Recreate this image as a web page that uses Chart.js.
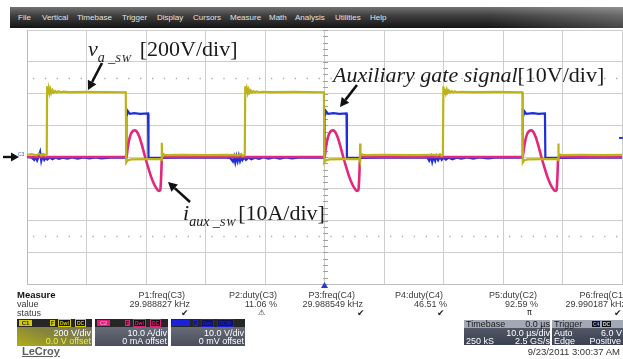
<!DOCTYPE html>
<html>
<head>
<meta charset="utf-8">
<script src="https://cdn.jsdelivr.net/npm/chart.js@4.4.1/dist/chart.umd.min.js"></script>
<style>
html,body{margin:0;padding:0;background:#fff}
body{position:relative;width:623px;height:359px;overflow:hidden;font-family:"Liberation Sans",Arial,sans-serif}
#scope{position:absolute;left:0;top:0}
#menubar{position:absolute;left:10px;top:7px;width:613px;height:21px;background:linear-gradient(to right,rgba(255,255,255,0) 78%,rgba(255,255,255,.22) 100%),linear-gradient(to bottom,#727272 0%,#404040 40%,#141414 100%)}
#menubar span{position:absolute;top:6px;font-size:8px;line-height:9px;color:#e4e4e4}
.ann{position:absolute;font-family:"Liberation Serif","Times New Roman",serif;font-size:22px;line-height:22px;white-space:nowrap;color:#1a1a1a}
.ann i{font-style:italic}
.sub{display:inline-block;position:relative;top:6px;font-size:14px;line-height:14px;font-style:italic}
.sc{font-size:11px;letter-spacing:1px}
.t9{position:absolute;font-size:9px;line-height:10px;white-space:nowrap;color:#3a3a3a}
.b{font-weight:bold;color:#111;font-size:9.5px}
.st{position:absolute;top:308px;font-size:9px;line-height:10px;color:#222;font-family:"DejaVu Sans",sans-serif}
.ch{position:absolute;top:319px;width:75px;height:27px;overflow:hidden}
.chh{position:absolute;left:0;top:0;right:0;height:8px;background:#262626}
.lab{position:absolute;top:1px;height:6px;width:13px;font-size:6px;line-height:6px;font-weight:bold;text-align:center}
.tag{position:absolute;top:1px;height:6px;font-size:5px;line-height:6px;padding:0 1px;font-weight:bold}
.v1{position:absolute;right:1px;top:9px;font-size:9px;line-height:10px;color:#fff;white-space:nowrap}
.v2{position:absolute;right:1px;top:18px;font-size:9px;line-height:9px;color:#fff;white-space:nowrap}
.bx{position:absolute;top:320px;height:25px;overflow:hidden;background:linear-gradient(to bottom,#5c6272,#3a4050)}
.r1{position:absolute;left:0;right:0;top:0;height:8px;background:#a2a8b4}
.bt{position:absolute;font-size:9px;line-height:9px;white-space:nowrap;color:#fff}
</style>
</head>
<body>
<canvas id="scope" width="623" height="359"></canvas>

<div id="menubar">
<span style="left:8px">File</span><span style="left:32px">Vertical</span><span style="left:67px">Timebase</span><span style="left:112px">Trigger</span><span style="left:147px">Display</span><span style="left:183px">Cursors</span><span style="left:220px">Measure</span><span style="left:259px">Math</span><span style="left:285px">Analysis</span><span style="left:325px">Utilities</span><span style="left:360px">Help</span>
</div>

<div class="t9" style="left:18px;top:151px;font-size:5px;line-height:6px;color:#3a52c8">C3</div>

<div class="ann" style="left:88px;top:38px"><i>v</i><span class="sub" style="width:42px">a _<span class="sc">SW</span></span>[200V/div]</div>
<div class="ann" style="left:333px;top:64px"><i>Auxiliary gate signal</i>[10V/div]</div>
<div class="ann" style="left:183px;top:202px"><i>i</i><span class="sub" style="width:49px">aux _<span class="sc">SW</span></span>[10A/div]</div>

<!-- measurement table -->
<div class="t9 b" style="left:17px;top:290px">Measure</div>
<div class="t9" style="left:17px;top:299px">value</div>
<div class="t9" style="left:17px;top:308px">status</div>

<div class="t9" style="right:438px;top:290px">P1:freq(C3)</div>
<div class="t9" style="right:433px;top:299px">29.988827 kHz</div>
<div class="st" style="left:181px">✔</div>

<div class="t9" style="right:346px;top:290px">P2:duty(C3)</div>
<div class="t9" style="right:346px;top:299px">11.06 %</div>
<div class="st" style="left:258px;font-size:8px">⚠</div>

<div class="t9" style="right:268px;top:290px">P3:freq(C4)</div>
<div class="t9" style="right:260px;top:299px">29.988549 kHz</div>
<div class="st" style="left:357px">✔</div>

<div class="t9" style="right:180px;top:290px">P4:duty(C4)</div>
<div class="t9" style="right:176px;top:299px">46.51 %</div>
<div class="st" style="left:437px">✔</div>

<div class="t9" style="right:86px;top:290px">P5:duty(C2)</div>
<div class="t9" style="right:85px;top:299px">92.59 %</div>
<div class="st" style="left:527px;font-size:8px">π</div>

<div class="t9" style="right:-3px;top:290px">P6:freq(C1)</div>
<div class="t9" style="right:-3px;top:299px">29.990187 kHz</div>
<div class="st" style="left:614px">✔</div>

<!-- channel boxes -->
<div class="ch" style="left:17px;background:linear-gradient(200deg,#6e6e6e 0%,#85853e 55%,#b2ad16 100%)">
  <div class="chh"></div>
  <div class="lab" style="left:2px;background:#d4cc00;color:#222">C1</div>
  <div class="tag" style="left:33px;background:#d4cc00;color:#111">F</div>
  <div class="tag" style="left:41px;background:#111;color:#d4cc00;border:1px solid #d4cc00;top:0">Dwl</div>
  <div class="tag" style="left:58px;background:#111;color:#d4cc00;border:1px solid #d4cc00;top:0">DC</div>
  <div class="v1">200 V/div</div>
  <div class="v2" style="color:#f2ee3a">0.0 V offset</div>
</div>
<div class="ch" style="left:95px;width:73px;background:linear-gradient(to bottom,#737884,#4a4e5a)">
  <div class="chh"></div>
  <div class="lab" style="left:2px;background:#e0207a;color:#ff8cc0">C2</div>
  <div class="tag" style="left:30px;background:#e0207a;color:#111">F</div>
  <div class="tag" style="left:38px;background:#111;color:#e0207a;border:1px solid #e0207a;top:0">Dwl</div>
  <div class="tag" style="left:55px;background:#111;color:#e0207a;border:1px solid #e0207a;top:0">DC</div>
  <div class="v1">10.0 A/div</div>
  <div class="v2">0 mA offset</div>
</div>
<div class="ch" style="left:171px;width:74px;background:linear-gradient(to bottom,#737884,#4a4e5a)">
  <div class="chh"></div>
  <div class="lab" style="left:1px;width:18px;background:#1a22d8;color:#1a22d8">C4</div>
  <div class="tag" style="left:22px;background:#1a22d8;color:#111">F</div>
  <div class="tag" style="left:30px;background:#10105a;color:#1a22d8;border:1px solid #1a22d8;top:0">Dwl</div>
  <div class="tag" style="left:46px;background:#10105a;color:#1a22d8;border:1px solid #1a22d8;top:0">DC50</div>
  <div class="v1">10.0 V/div</div>
  <div class="v2">0 mV offset</div>
</div>

<!-- timebase / trigger -->
<div class="bx" style="left:464px;width:86px">
  <div class="r1"></div>
  <div class="bt" style="left:2px;top:0;color:#1a1a1a">Timebase</div>
  <div class="bt" style="right:0;top:0;color:#1a1a1a">0.0 µs</div>
  <div class="bt" style="right:0;top:9px">10.0 µs/div</div>
  <div class="bt" style="left:2px;top:17px">250 kS</div>
  <div class="bt" style="right:0;top:17px">2.5 GS/s</div>
</div>
<div class="bx" style="left:552px;width:71px">
  <div class="r1"></div>
  <div class="bt" style="left:2px;top:0;color:#1a1a1a">Trigger</div>
  <div class="tag" style="left:40px;top:1px;background:#111;color:#8c96ff">C4</div>
  <div class="tag" style="left:50px;top:1px;background:#111;color:#ddd">DC</div>
  <div class="bt" style="left:2px;top:9px">Auto</div>
  <div class="bt" style="right:1px;top:9px">6.0 V</div>
  <div class="bt" style="left:2px;top:17px">Edge</div>
  <div class="bt" style="right:2px;top:17px">Positive</div>
</div>

<div class="t9" style="right:3px;top:347px;font-size:9.5px;color:#333">9/23/2011 3:00:37 AM</div>
<div class="t9" style="left:22px;top:345px;font-size:11px;line-height:12px;font-weight:bold;color:#5c5c5c;text-decoration:underline">LeCroy</div>

<script>
// ---- data (time in µs, 10 µs/div) ----
const timeDivTicks = [0,10,20,30,40,50,60,70,80,90,100];      // µs grid
const vertDivTicks = [-4,-3,-2,-1,0,1,2,3,4];                  // screen divisions
const voltsPerDivC1 = 200;   // v_a_SW  [200 V/div]
const ampsPerDivC2  = 10;    // i_aux_SW [10 A/div]
const voltsPerDivC4 = 10;    // auxiliary gate [10 V/div]
const triggerLevelC4 = 6.0;  // V

// v_a_SW  [µs, V]
const vaSw = [
 [0,14],[0.8,18],[1.5,10],[2.0,20],[2.4,8],[2.8,19],[3.1,9],[3.32,16],
 [3.38,445],[3.5,395],[3.65,432],[3.8,400],[3.95,425],[4.1,404],[4.3,420],[4.5,406],[4.75,416],[5.0,407],[5.3,414],[5.7,408],[6.2,412],[7,409],[10,410],[13,409],[16.6,408],
 [16.68,-35],[16.9,-22],[17.5,-15],[20,-14],[22.5,-13],
 [22.62,-20],[22.66,90],[22.72,5],[22.85,20],[23.2,12],[26,14],[30,12],[34,13],[35.5,10],[36.0,18],[36.3,6],[36.6,14],
 [36.68,445],[36.8,398],[36.95,430],[37.1,402],[37.25,424],[37.4,405],[37.6,419],[37.8,406],[38.05,415],[38.3,408],[38.6,413],[39,408],[39.5,411],[41,409],[45,410],[49.9,408],
 [49.98,-35],[50.2,-22],[50.8,-15],[53,-14],[55.9,-13],
 [55.95,-20],[55.99,85],[56.05,5],[56.2,18],[56.5,12],[60,13],[65,12],[68,14],[69.0,10],[69.4,18],[69.7,7],[69.9,14],
 [69.98,445],[70.1,398],[70.25,430],[70.4,402],[70.55,424],[70.7,405],[70.9,419],[71.1,406],[71.35,415],[71.6,408],[71.9,413],[72.3,408],[72.8,411],[75,409],[79,410],[83.25,408],
 [83.33,-35],[83.55,-22],[84.1,-15],[86.5,-14],[89.2,-13],
 [89.25,-20],[89.3,85],[89.36,5],[89.5,18],[89.8,12],[93,13],[97,12],[100,13]
];

// i_aux_SW  [µs, A]
const iAuxSw = [
 [0,0],[16.72,0],[16.9,2.5],[17.15,5.2],[17.45,7.2],[17.8,8.2],[18.15,8.4],[18.5,7.9],[18.9,6.3],[19.35,3.5],[19.85,0],[20.35,-3.2],[20.85,-6.2],[21.35,-8.5],[21.8,-10],[22.2,-10.7],[22.4,-10.4],[22.55,-6],[22.65,-1],[22.75,0],
 [50.02,0],[50.2,2.5],[50.45,5.2],[50.75,7.2],[51.1,8.2],[51.45,8.4],[51.8,7.9],[52.2,6.3],[52.65,3.5],[53.15,0],[53.65,-3.2],[54.15,-6.2],[54.65,-8.5],[55.1,-10],[55.5,-10.7],[55.7,-10.4],[55.85,-6],[55.95,-1],[56.05,0],
 [83.3,0],[83.5,2.5],[83.75,5.2],[84.05,7.2],[84.4,8.2],[84.75,8.4],[85.1,7.9],[85.5,6.3],[85.95,3.5],[86.45,0],[86.95,-3.2],[87.45,-6.2],[87.95,-8.5],[88.4,-10],[88.8,-10.7],[89.0,-10.4],[89.15,-6],[89.25,-1],[89.35,0],[100,0]
];

// auxiliary gate signal  [µs, V]
const auxGate = [
 [0,0],[0.8,-0.2],[1.2,-0.9],[1.4,0.1],[1.7,-1.1],[1.9,-0.1],[2.2,1.6],[2.4,-1.2],[2.6,0.3],[2.9,-0.9],[3.1,-0.3],[3.4,-0.8],[3.8,-0.2],[4.3,-0.7],[4.8,-0.2],[5.4,-0.6],[6.0,-0.2],[6.8,-0.5],[7.6,-0.1],[8.5,-0.5],[9.5,-0.1],[10.5,-0.4],[11.5,-0.1],[12.5,-0.4],[14,-0.2],[16.65,-0.2],
 [16.7,15.2],[16.85,13.5],[17.0,14.3],[17.3,13.6],[18,13.8],[19,13.6],[20.35,13.7],[20.42,-0.3],[22,-0.3],[26,-0.2],[30,-0.2],[33.5,-0.2],
 [34.2,-0.4],[34.6,-1.4],[34.8,0.1],[35.0,-1.7],[35.2,0.2],[35.4,-1.3],[35.6,0.4],[35.8,-1.2],[36.0,0.1],[36.2,-1.0],[36.5,-0.2],[36.8,-0.9],[37.2,-0.2],[37.7,-0.7],[38.3,-0.2],[39,-0.6],[39.8,-0.1],[40.6,-0.5],[41.5,-0.1],[42.5,-0.5],[43.5,-0.1],[44.5,-0.4],[46,-0.1],[49.95,-0.2],
 [50.0,15.2],[50.15,13.5],[50.3,14.3],[50.6,13.6],[51.5,13.8],[52.5,13.6],[53.7,13.7],[53.77,-0.3],[56,-0.3],[60,-0.2],[64,-0.2],[67.3,-0.2],
 [67.6,-1.2],[67.9,0.2],[68.1,-1.5],[68.3,0.1],[68.6,-1.2],[68.8,0.3],[69.1,-1.0],[69.4,0.1],[69.7,-0.9],[70.0,-0.2],[70.4,-0.8],[70.9,-0.2],[71.5,-0.7],[72.2,-0.2],[73,-0.5],[74,-0.1],[75,-0.5],[76,-0.1],[77.5,-0.4],[79,-0.1],[83.28,-0.2],
 [83.33,15.2],[83.5,13.5],[83.65,14.3],[83.9,13.6],[85,13.8],[86,13.6],[87.05,13.7],[87.12,-0.3],[90,-0.3],[95,-0.2],[100,-0.2]
];

// annotation arrows: tip at [µs, div], tail offset in px
const annotationArrows = [
 {tip:[10.25, 2.11], tail:[14,-27]},
 {tip:[52.6, 1.575], tail:[17,-22]},
 {tip:[23.7, -0.79], tail:[22,20]}
];

const toDiv = (arr, perDiv) => arr.map(([t,v]) => ({x:t, y:v/perDiv}));

function drawArrow(ctx,x0,y0,x1,y1,lw,head,half){
  const a=Math.atan2(y1-y0,x1-x0);
  const bx=x1-head*Math.cos(a), by=y1-head*Math.sin(a);
  ctx.lineWidth=lw; ctx.beginPath(); ctx.moveTo(x0,y0); ctx.lineTo(bx,by); ctx.stroke();
  ctx.beginPath(); ctx.moveTo(x1,y1);
  ctx.lineTo(bx+half*Math.sin(a), by-half*Math.cos(a));
  ctx.lineTo(bx-half*Math.sin(a), by+half*Math.cos(a));
  ctx.closePath(); ctx.fill();
}

const scopePlugin = {
  id:'scope',
  beforeDatasetsDraw(chart){
    const {ctx, chartArea:a, scales:{x,y}} = chart;
    ctx.save();
    const step = (x.getPixelForValue(10)-x.getPixelForValue(0))/5;
    ctx.strokeStyle='#a9a9a9'; ctx.lineWidth=1.3;
    ctx.setLineDash([1.3, step-1.3]);
    [2.5,-2.5].forEach(d=>{
      const py=Math.round(y.getPixelForValue(d))+0.5;
      ctx.beginPath(); ctx.moveTo(a.left+step/2,py); ctx.lineTo(a.right,py); ctx.stroke();
    });
    ctx.setLineDash([]);
    const cx=Math.round(x.getPixelForValue(50))+0.5;
    ctx.strokeStyle='#a0a0a0'; ctx.lineWidth=1;
    for(let k=-20;k<=20;k++){
      const py=Math.round(y.getPixelForValue(k/5))+0.5;
      ctx.beginPath(); ctx.moveTo(cx-2.5,py); ctx.lineTo(cx+2.5,py); ctx.stroke();
    }
    ctx.restore();
  },
  afterDatasetsDraw(chart){
    const {ctx, chartArea:a, scales:{x,y}} = chart;
    ctx.save();
    ctx.strokeStyle='#111'; ctx.fillStyle='#111';
    annotationArrows.forEach(ar=>{
      const px=x.getPixelForValue(ar.tip[0]), py=y.getPixelForValue(ar.tip[1]);
      drawArrow(ctx, px+ar.tail[0], py+ar.tail[1], px, py, 2.6, 9, 4.8);
    });
    const y0=y.getPixelForValue(0);
    drawArrow(ctx, 3, y0, a.left-8, y0, 2.4, 8, 4.5);
    const tx=x.getPixelForValue(50);
    ctx.fillStyle='#2a3ad0';
    ctx.beginPath(); ctx.moveTo(tx,a.bottom-2); ctx.lineTo(tx-3.5,a.bottom+4); ctx.lineTo(tx+3.5,a.bottom+4); ctx.closePath(); ctx.fill();
    const ty=y.getPixelForValue(triggerLevelC4/voltsPerDivC4);
    ctx.fillRect(a.right-3, ty-1, 4, 2);
    ctx.restore();
  }
};

new Chart(document.getElementById('scope'), {
  type:'line',
  data:{
    datasets:[
      {label:'v_a_SW', data:toDiv(vaSw,voltsPerDivC1), borderColor:'#bcb31a', borderWidth:2.2, pointRadius:0, tension:0},
      {label:'i_aux_SW', data:toDiv(iAuxSw,ampsPerDivC2), borderColor:'#e2277c', borderWidth:2.6, pointRadius:0, cubicInterpolationMode:'monotone'},
      {label:'Auxiliary gate signal', data:toDiv(auxGate,voltsPerDivC4), borderColor:'#1f2fd8', borderWidth:2.2, pointRadius:0, tension:0}
    ]
  },
  options:{
    responsive:false, animation:false, events:[],
    layout:{padding:{left:27, top:30, right:1, bottom:75}},
    plugins:{legend:{display:false}, tooltip:{enabled:false}},
    scales:{
      x:{type:'linear', min:0, max:100,
         afterBuildTicks:s=>{s.ticks=timeDivTicks.map(v=>({value:v}));},
         ticks:{display:false}, grid:{color:'#cdcdcd', lineWidth:1, drawTicks:false},
         border:{display:true, color:'#bdbdbd'}},
      y:{type:'linear', min:-4, max:4,
         afterBuildTicks:s=>{s.ticks=vertDivTicks.map(v=>({value:v}));},
         ticks:{display:false}, grid:{color:'#cdcdcd', lineWidth:1, drawTicks:false},
         border:{display:true, color:'#bdbdbd'}}
    }
  },
  plugins:[scopePlugin]
});
</script>
</body>
</html>
